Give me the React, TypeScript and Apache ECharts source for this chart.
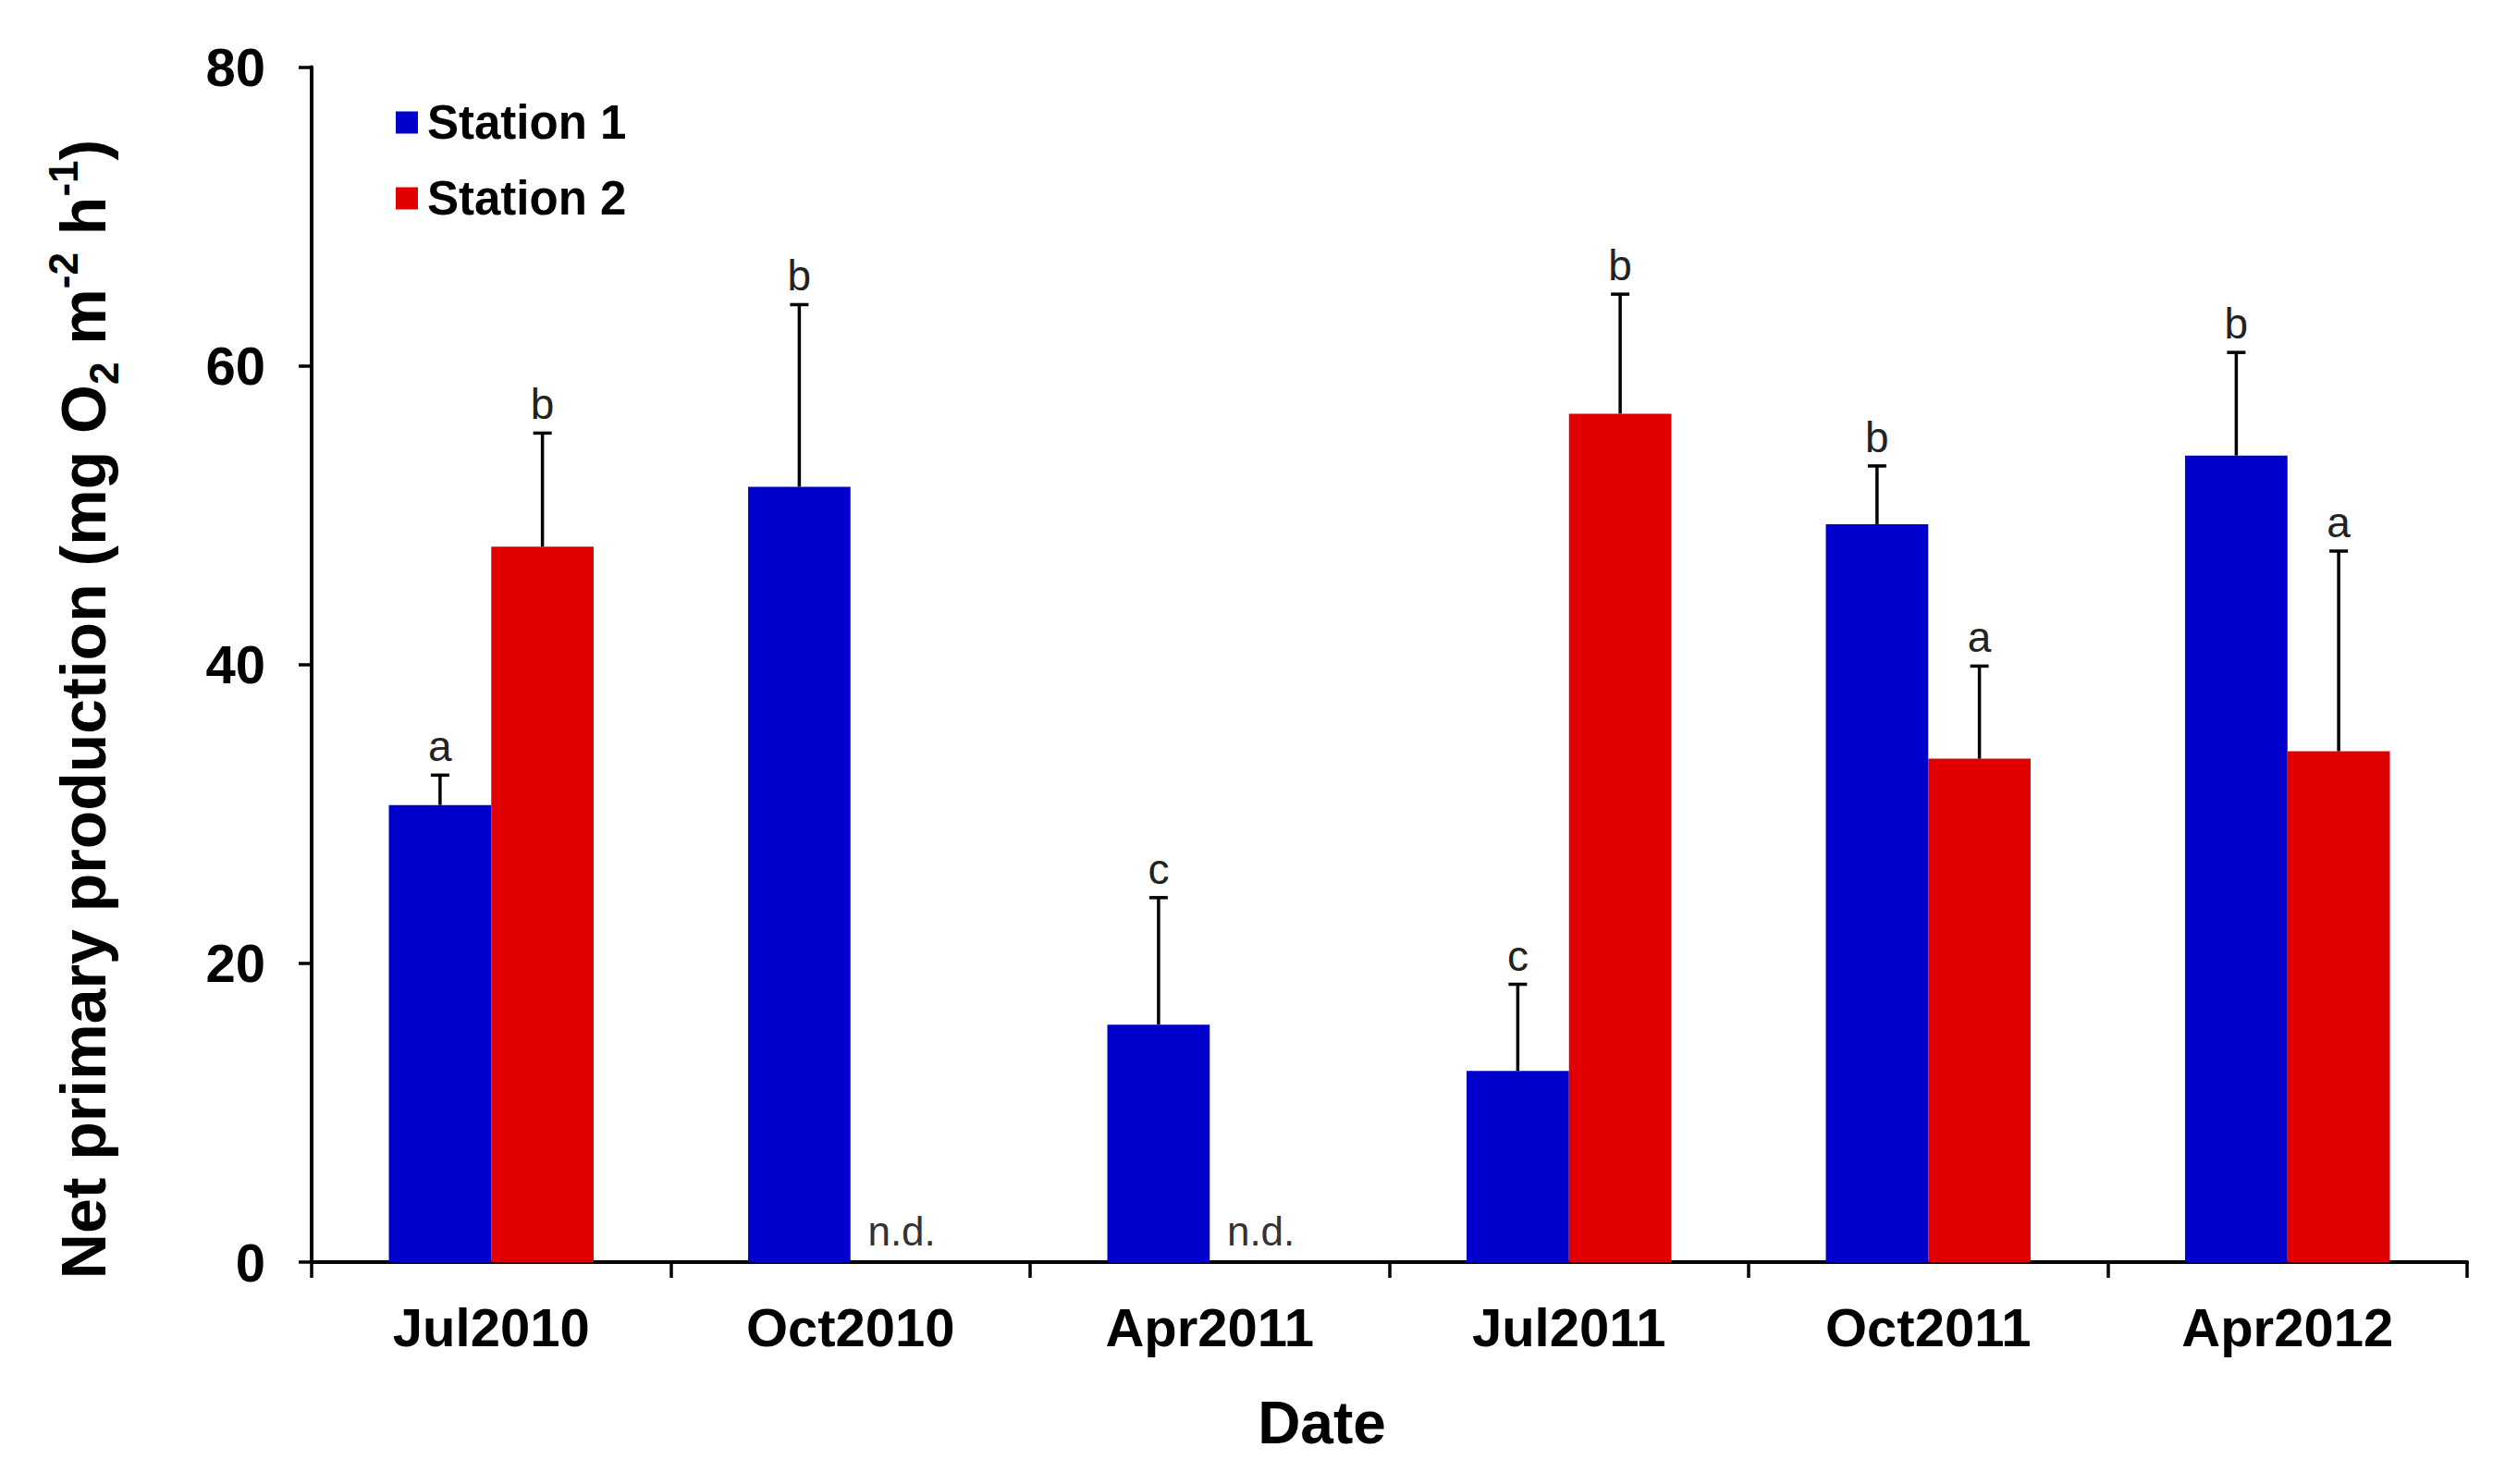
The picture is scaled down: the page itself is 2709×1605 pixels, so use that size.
import React, { useEffect, useRef } from 'react';
import * as echarts from 'echarts';

const categories = ['Jul2010', 'Oct2010', 'Apr2011', 'Jul2011', 'Oct2011', 'Apr2012'];
const station1 = [30.6, 51.9, 15.9, 12.8, 49.4, 54.0];
const station2: (number | null)[] = [47.9, null, null, 56.8, 33.7, 34.2];
const station1Err = [2.0, 12.2, 8.5, 5.8, 3.9, 6.9];
const station2Err: (number | null)[] = [7.6, null, null, 8.0, 6.2, 13.4];
const station1Letters = ['a', 'b', 'c', 'c', 'b', 'b'];
const station2Letters = ['b', 'n.d.', 'n.d.', 'b', 'a', 'a'];
const yTicks = [0, 20, 40, 60, 80];

const FONT = '"Liberation Sans", Arial, Helvetica, sans-serif';
const BLUE = '#0000CC';
const RED = '#E00000';
const CAT_GAP = 0.43;

export default function App() {
  const ref = useRef<HTMLDivElement>(null);

  useEffect(() => {
    const chart = echarts.init(ref.current as HTMLDivElement, null, { renderer: 'svg' });

    const makeErr = (
      name: string,
      vals: (number | null)[],
      errs: (number | null)[],
      letters: string[],
      side: number
    ) => ({
      type: 'custom',
      name: name + ' err',
      z: 5,
      silent: true,
      renderItem: (params: any, api: any) => {
        const i = params.dataIndex;
        const band = api.size([1, 0])[0];
        const bw = (band * (1 - CAT_GAP)) / 2;
        const base = api.coord([i, 0]);
        const cx = base[0] + (side * bw) / 2;
        const v = vals[i];
        const e = errs[i];
        if (v == null || e == null) {
          return {
            type: 'text',
            x: cx,
            y: base[1] - 12,
            style: {
              text: letters[i],
              fill: '#333',
              fontFamily: FONT,
              fontSize: 44,
              align: 'center',
              verticalAlign: 'bottom',
            },
          };
        }
        const p0 = api.coord([i, v]);
        const p1 = api.coord([i, v + e]);
        const cap = 10;
        return {
          type: 'group',
          children: [
            {
              type: 'line',
              shape: { x1: cx, y1: p0[1], x2: cx, y2: p1[1] },
              style: { stroke: '#000', lineWidth: 3.5 },
            },
            {
              type: 'line',
              shape: { x1: cx - cap, y1: p1[1], x2: cx + cap, y2: p1[1] },
              style: { stroke: '#000', lineWidth: 3.5 },
            },
            {
              type: 'text',
              x: cx,
              y: p1[1] - 8,
              style: {
                text: letters[i],
                fill: '#222',
                fontFamily: FONT,
                fontSize: 46,
                align: 'center',
                verticalAlign: 'bottom',
              },
            },
          ],
        };
      },
      data: categories.map((_, i) => [i, (vals[i] ?? 0) + (errs[i] ?? 0)]),
    });

    chart.setOption({
      animation: false,
      backgroundColor: '#fff',
      grid: { left: 337, right: 41, top: 72.6, bottom: 240, containLabel: false },
      legend: {
        orient: 'vertical',
        left: 423,
        top: 102,
        icon: 'rect',
        itemWidth: 24,
        itemHeight: 24,
        itemGap: 31,
        data: ['Station 1', 'Station 2'],
        textStyle: {
          fontFamily: FONT,
          fontWeight: 'bold',
          fontSize: 51,
          lineHeight: 51,
          color: '#000',
          padding: [0, 0, 0, 5],
        },
      },
      xAxis: {
        type: 'category',
        data: categories,
        name: 'Date',
        nameLocation: 'middle',
        nameGap: 142,
        nameTextStyle: {
          fontFamily: FONT,
          fontWeight: 'bold',
          fontSize: 64,
          color: '#000',
          padding: [0, 146, 0, 0],
        },
        axisLine: { show: true, lineStyle: { color: '#000', width: 4 } },
        axisTick: { show: true, length: 17, lineStyle: { color: '#000', width: 3.5 } },
        axisLabel: { fontFamily: FONT, fontWeight: 'bold', fontSize: 58, color: '#000', margin: 41 },
        splitLine: { show: false },
      },
      yAxis: {
        type: 'value',
        min: yTicks[0],
        max: yTicks[yTicks.length - 1],
        interval: 20,
        axisLine: { show: true, lineStyle: { color: '#000', width: 4 } },
        axisTick: { show: true, length: 14, lineStyle: { color: '#000', width: 3.5 } },
        axisLabel: { fontFamily: FONT, fontWeight: 'bold', fontSize: 58, color: '#000', margin: 50 },
        splitLine: { show: false },
      },
      graphic: [
        {
          type: 'text',
          x: 90,
          y: 767,
          rotation: Math.PI / 2,
          style: {
            text: '{b|Net primary production (mg O}{sub|2}{b| m}{sup|-2}{b| h}{sup|-1}{b|)}',
            align: 'center',
            verticalAlign: 'middle',
            rich: {
              b: { fontFamily: FONT, fontWeight: 'bold', fontSize: 68, fill: '#000', lineHeight: 88 },
              sub: {
                fontFamily: FONT,
                fontWeight: 'bold',
                fontSize: 44,
                fill: '#000',
                lineHeight: 44,
                verticalAlign: 'bottom',
              },
              sup: {
                fontFamily: FONT,
                fontWeight: 'bold',
                fontSize: 44,
                fill: '#000',
                lineHeight: 44,
                verticalAlign: 'top',
              },
            },
          },
        },
      ],
      series: [
        {
          type: 'bar',
          name: 'Station 1',
          data: station1,
          itemStyle: { color: BLUE },
          barGap: '0%',
          barCategoryGap: CAT_GAP * 100 + '%',
        },
        {
          type: 'bar',
          name: 'Station 2',
          data: station2,
          itemStyle: { color: RED },
          barGap: '0%',
          barCategoryGap: CAT_GAP * 100 + '%',
        },
        makeErr('Station 1', station1, station1Err, station1Letters, -1),
        makeErr('Station 2', station2, station2Err, station2Letters, 1),
      ],
    });

    return () => chart.dispose();
  }, []);

  return (
    <div
      ref={ref}
      style={{ position: 'fixed', left: 0, top: 0, width: 2709, height: 1605, background: '#fff' }}
    />
  );
}
